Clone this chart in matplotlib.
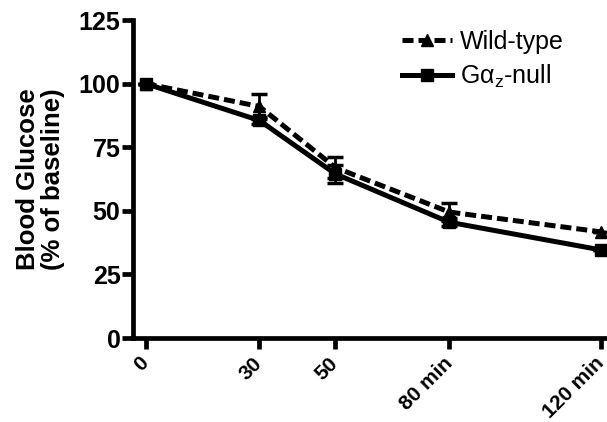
import numpy as np
import matplotlib.pyplot as plt

plt.rcParams['font.family'] = ['Liberation Sans', 'DejaVu Sans']
plt.rcParams['mathtext.fontset'] = 'custom'
plt.rcParams['mathtext.rm'] = 'Liberation Sans'

# --- dados ---
tempo = [0, 30, 50, 80, 120]
tick_labels = ['0', '30', '50', '80 min', '120 min']
wt_mean = [100, 91, 67, 49.5, 41.7]
wt_err = [0, 5, 4, 3.5, 0]
null_mean = [100, 85.5, 64.5, 45.5, 34.6]
null_err = [0, 1.5, 3.5, 1.5, 0]

fig = plt.figure(figsize=(6.07, 4.22), dpi=100)
ax = fig.add_axes([133 / 607, 84 / 422, 472 / 607, 318 / 422])

lw = 3.6
# barras de erro (sem entrar na legenda)
ax.errorbar(tempo, null_mean, yerr=null_err, fmt='none', ecolor='k',
            elinewidth=2, capsize=6, capthick=2.5, clip_on=False, zorder=2)
ax.errorbar(tempo, wt_mean, yerr=wt_err, fmt='none', ecolor='k',
            elinewidth=2, capsize=6, capthick=2.5, clip_on=False, zorder=2)

ax.plot(tempo, null_mean, color='k', linestyle='-', linewidth=lw,
        marker='s', markersize=9, label='G\u03b1$_{\\mathrm{z}}$-null',
        clip_on=False, zorder=3)
ax.plot(tempo, wt_mean, color='k', linestyle=(0, (2.2, 1.0)), linewidth=lw,
        marker='^', markersize=9, label='Wild-type', clip_on=False, zorder=4)

ax.set_xlim(-3.3, 121)
ax.set_ylim(0, 125)
ax.set_yticks([0, 25, 50, 75, 100, 125])
ax.set_xticks(tempo)
ax.set_xticklabels(tick_labels, rotation=45, ha='right', va='center',
                   rotation_mode='anchor', fontsize=15, fontweight='bold')
for lab in ax.get_yticklabels():
    lab.set_fontsize(18)
    lab.set_fontweight('bold')

for s in ['top', 'right']:
    ax.spines[s].set_visible(False)
for s in ['left', 'bottom']:
    ax.spines[s].set_linewidth(3.4)
ax.tick_params(axis='both', width=3.4, length=8, pad=1)
ax.tick_params(axis='x', pad=8)

ax.set_ylabel('Blood Glucose\n(% of baseline)', fontsize=18.5, fontweight='bold',
              linespacing=1.05, labelpad=10)

handles, labels = ax.get_legend_handles_labels()
leg = ax.legend(handles[::-1], labels[::-1], loc='upper right',
                bbox_to_anchor=(0.96, 1.04), frameon=False,
                fontsize=18, handlelength=2.0, handletextpad=0.3,
                labelspacing=0.35)

fig.savefig('out.png', dpi=100)
